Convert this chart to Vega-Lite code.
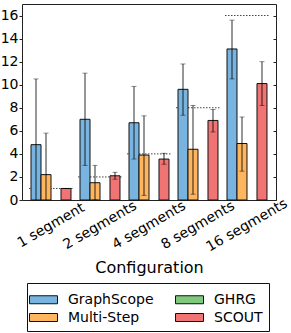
{
  "$schema": "https://vega.github.io/schema/vega-lite/v6.json",
  "width": 254,
  "height": 196,
  "padding": {"left": 0, "top": 4, "right": 16, "bottom": 5},
  "config": {
    "font": "DejaVu Sans",
    "view": {"stroke": "#222222", "strokeWidth": 1},
    "axis": {"grid": false, "labelColor": "#000000", "titleColor": "#000000", "tickColor": "#222222"}
  },
  "datasets": {
    "bars": [
      {"config": "1 segment", "method": "GraphScope", "value": 4.8, "lo": -0.9, "hi": 10.5},
      {"config": "1 segment", "method": "Multi-Step", "value": 2.2, "lo": -1.4, "hi": 5.8},
      {"config": "1 segment", "method": "SCOUT", "value": 1.0, "lo": 1.0, "hi": 1.0},
      {"config": "2 segments", "method": "GraphScope", "value": 7.0, "lo": 3.0, "hi": 11.0},
      {"config": "2 segments", "method": "Multi-Step", "value": 1.5, "lo": 0.0, "hi": 3.0},
      {"config": "2 segments", "method": "SCOUT", "value": 2.1, "lo": 1.8, "hi": 2.4},
      {"config": "4 segments", "method": "GraphScope", "value": 6.7, "lo": 3.55, "hi": 9.85},
      {"config": "4 segments", "method": "Multi-Step", "value": 3.9, "lo": 0.4, "hi": 7.3},
      {"config": "4 segments", "method": "SCOUT", "value": 3.55, "lo": 3.1, "hi": 4.05},
      {"config": "8 segments", "method": "GraphScope", "value": 9.6, "lo": 7.35, "hi": 11.8},
      {"config": "8 segments", "method": "Multi-Step", "value": 4.4, "lo": 0.5, "hi": 8.2},
      {"config": "8 segments", "method": "SCOUT", "value": 6.9, "lo": 5.9, "hi": 7.85},
      {"config": "16 segments", "method": "GraphScope", "value": 13.1, "lo": 10.5, "hi": 15.6},
      {"config": "16 segments", "method": "Multi-Step", "value": 4.9, "lo": 2.5, "hi": 7.2},
      {"config": "16 segments", "method": "SCOUT", "value": 10.1, "lo": 8.2, "hi": 12.0}
    ],
    "truth": [
      {"config": "1 segment", "truth": 1},
      {"config": "2 segments", "truth": 2},
      {"config": "4 segments", "truth": 4},
      {"config": "8 segments", "truth": 8},
      {"config": "16 segments", "truth": 16}
    ]
  },
  "resolve": {"axis": {"y": "independent"}},
  "layer": [
    {
      "data": {"name": "truth"},
      "mark": {"type": "rule", "strokeDash": [1.5, 1.5], "color": "#444444", "strokeWidth": 1},
      "encoding": {
        "x": {"field": "config", "type": "nominal", "bandPosition": -0.05, "sort": ["1 segment", "2 segments", "4 segments", "8 segments", "16 segments"],
              "scale": {"paddingInner": 0.184, "paddingOuter": 0.184},
              "axis": {"title": "Configuration", "titleFontSize": 16, "titleFontWeight": "normal", "titlePadding": 6,
                       "labelAngle": -30, "labelAlign": "center", "labelBaseline": "middle", "labelPadding": 25,
                       "ticks": false, "domain": false, "labelFontSize": 14}},
        "x2": {"field": "config", "bandPosition": 1.05},
        "y": {"field": "truth", "type": "quantitative", "scale": {"domain": [0, 17], "nice": false},
              "axis": {"orient": "right", "values": [0, 2, 4, 6, 8, 10, 12, 14, 16], "labels": false, "title": null, "tickSize": -3, "domain": false}}
      }
    },
    {
      "data": {"name": "bars"},
      "mark": {"type": "bar", "stroke": "#111111", "strokeWidth": 1},
      "encoding": {
        "x": {"field": "config", "type": "nominal", "sort": ["1 segment", "2 segments", "4 segments", "8 segments", "16 segments"]},
        "xOffset": {"field": "method", "type": "nominal", "scale": {"domain": ["GraphScope", "Multi-Step", "GHRG", "SCOUT"], "paddingInner": 0, "paddingOuter": 0}},
        "y": {"field": "value", "type": "quantitative",
              "axis": {"orient": "left", "values": [0, 2, 4, 6, 8, 10, 12, 14, 16], "title": null, "tickSize": 3, "labelFontSize": 14, "labelPadding": 1, "domain": false}},
        "color": {"field": "method", "type": "nominal",
                  "scale": {"domain": ["GraphScope", "Multi-Step", "GHRG", "SCOUT"], "range": ["#79b4e1", "#fdb55f", "#7fc97f", "#f07474"]},
                  "legend": {"orient": "none", "legendX": 5, "legendY": 279, "title": null, "columns": 2,
                             "symbolType": "M-1.4,-0.4H1.4V0.4H-1.4Z", "symbolSize": 400, "symbolStrokeColor": "#111111", "symbolStrokeWidth": 1,
                             "symbolOpacity": 1,
                             "labelFontSize": 14, "labelOffset": 14, "columnPadding": 19, "rowPadding": 0,
                             "strokeColor": "#111111", "fillColor": "#ffffff", "padding": 6, "cornerRadius": 0, "labelColor": "#000000"}}
      }
    },
    {
      "data": {"name": "bars"},
      "mark": {"type": "rule", "color": "#000000", "opacity": 0.55, "strokeWidth": 1.5, "clip": true},
      "encoding": {
        "x": {"field": "config", "type": "nominal", "sort": ["1 segment", "2 segments", "4 segments", "8 segments", "16 segments"]},
        "xOffset": {"field": "method", "type": "nominal"},
        "y": {"field": "lo", "type": "quantitative", "axis": null},
        "y2": {"field": "hi"}
      }
    },
    {
      "data": {"name": "bars"},
      "mark": {"type": "tick", "color": "#000000", "opacity": 0.45, "size": 5, "thickness": 1, "clip": true},
      "encoding": {
        "x": {"field": "config", "type": "nominal", "sort": ["1 segment", "2 segments", "4 segments", "8 segments", "16 segments"]},
        "xOffset": {"field": "method", "type": "nominal"},
        "y": {"field": "hi", "type": "quantitative", "axis": null}
      }
    },
    {
      "data": {"name": "bars"},
      "mark": {"type": "tick", "color": "#000000", "opacity": 0.45, "size": 5, "thickness": 1, "clip": true},
      "encoding": {
        "x": {"field": "config", "type": "nominal", "sort": ["1 segment", "2 segments", "4 segments", "8 segments", "16 segments"]},
        "xOffset": {"field": "method", "type": "nominal"},
        "y": {"field": "lo", "type": "quantitative", "axis": null}
      }
    }
  ]
}
